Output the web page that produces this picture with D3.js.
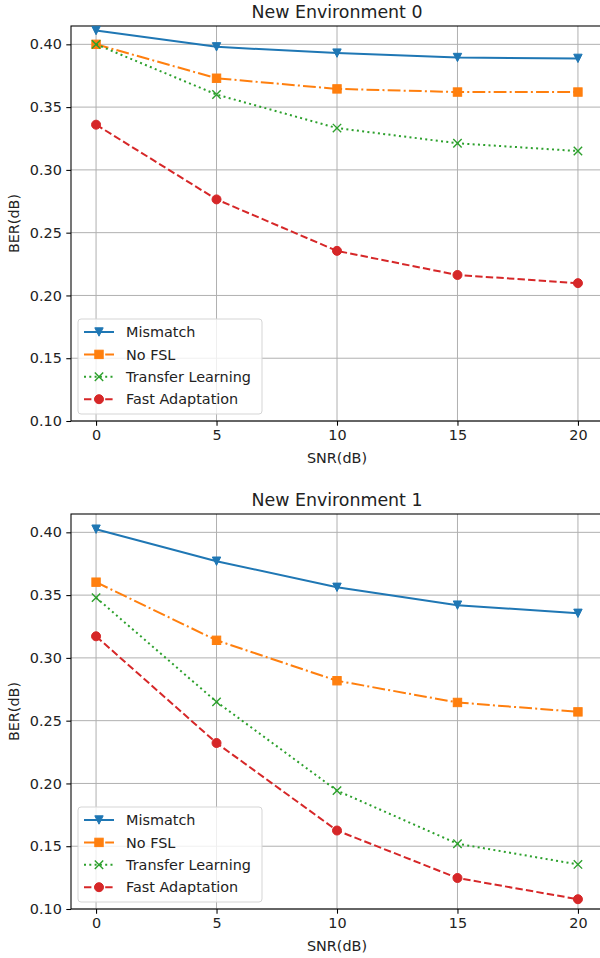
<!DOCTYPE html>
<html>
<head>
<meta charset="utf-8">
<script src="https://cdn.jsdelivr.net/npm/d3@7"></script>
<style>
  body { margin: 0; background: #fff; }
  svg { font-family: "DejaVu Sans", sans-serif; }
</style>
</head>
<body>
<div id="chart"></div>
<script>
// data
const snr = [0, 5, 10, 15, 20];
const seriesNames = ["Mismatch", "No FSL", "Transfer Learning", "Fast Adaptation"];
const env0Mismatch = [0.411, 0.398, 0.393, 0.3895, 0.3888];
const env0NoFSL = [0.400, 0.373, 0.3645, 0.362, 0.362];
const env0Transfer = [0.400, 0.360, 0.3333, 0.3212, 0.315];
const env0Fast = [0.336, 0.2765, 0.2355, 0.2163, 0.2098];
const env1Mismatch = [0.4025, 0.377, 0.3562, 0.342, 0.3355];
const env1NoFSL = [0.3603, 0.314, 0.2818, 0.2645, 0.257];
const env1Transfer = [0.348, 0.265, 0.1943, 0.152, 0.1355];
const env1Fast = [0.3172, 0.2322, 0.1625, 0.1247, 0.1078];
const xTicks = [0, 5, 10, 15, 20];
const yTicks = [0.10, 0.15, 0.20, 0.25, 0.30, 0.35, 0.40];

const colors = ["#1f77b4", "#ff7f0e", "#2ca02c", "#d62728"];
const dashes = [null, "12.8,3.2,2,3.2", "2,3.3", "7.4,3.2"];
const markers = ["tri", "square", "x", "circle"];

const width = 600, height = 958;
const fontSize = "14.4px";
const svg = d3.select("#chart").append("svg")
  .attr("width", width)
  .attr("height", height);

function drawMarker(g, type, cx, cy, color) {
  const s = 4.2;
  if (type === "tri") {
    g.append("path")
      .attr("d", `M${cx - s},${cy - s}L${cx + s},${cy - s}L${cx},${cy + s}Z`)
      .attr("fill", color).attr("stroke", color).attr("stroke-width", 1);
  } else if (type === "square") {
    g.append("rect")
      .attr("x", cx - s).attr("y", cy - s)
      .attr("width", 2 * s).attr("height", 2 * s)
      .attr("fill", color).attr("stroke", color).attr("stroke-width", 1);
  } else if (type === "x") {
    g.append("path")
      .attr("d", `M${cx - s},${cy - s}L${cx + s},${cy + s}M${cx - s},${cy + s}L${cx + s},${cy - s}`)
      .attr("stroke", color).attr("stroke-width", 1.4).attr("fill", "none");
  } else {
    g.append("circle")
      .attr("cx", cx).attr("cy", cy).attr("r", s + 0.3)
      .attr("fill", color).attr("stroke", color).attr("stroke-width", 1);
  }
}

function drawPanel(top, bottom, title, data) {
  const left = 71, right = 603;
  const x = d3.scaleLinear().domain([-1.04, 21.04]).range([left, right]);
  const y = d3.scaleLinear().domain([0.10, 0.4146]).range([bottom, top]);
  const g = svg.append("g");

  // grid
  g.append("g").selectAll("line").data(xTicks).enter().append("line")
    .attr("x1", d => x(d)).attr("x2", d => x(d))
    .attr("y1", top).attr("y2", bottom)
    .attr("stroke", "#b0b0b0").attr("stroke-width", 1);
  g.append("g").selectAll("line").data(yTicks).enter().append("line")
    .attr("x1", left).attr("x2", right)
    .attr("y1", d => y(d)).attr("y2", d => y(d))
    .attr("stroke", "#b0b0b0").attr("stroke-width", 1);

  // axes
  const xAxis = g.append("g")
    .attr("transform", `translate(0,${bottom})`)
    .call(d3.axisBottom(x).tickValues(xTicks).tickSize(4.7).tickPadding(4.5).tickFormat(d3.format("d")));
  const yAxis = g.append("g")
    .attr("transform", `translate(${left},0)`)
    .call(d3.axisLeft(y).tickValues(yTicks).tickSize(4.7).tickPadding(4.5).tickFormat(d3.format(".2f")));
  [xAxis, yAxis].forEach(a => {
    a.select(".domain").remove();
    a.selectAll("line").attr("stroke", "#000").attr("stroke-width", 1.07);
    a.selectAll("text").attr("font-size", fontSize).attr("fill", "#222")
      .attr("font-family", "DejaVu Sans, sans-serif");
  });

  // spines
  g.append("rect")
    .attr("x", left).attr("y", top)
    .attr("width", right - left).attr("height", bottom - top)
    .attr("fill", "none").attr("stroke", "#000").attr("stroke-width", 1.07);

  // lines
  const line = d3.line().x((d, i) => x(snr[i])).y(d => y(d));
  data.forEach((vals, k) => {
    g.append("path")
      .attr("d", line(vals))
      .attr("fill", "none")
      .attr("stroke", colors[k])
      .attr("stroke-width", 2)
      .attr("stroke-dasharray", dashes[k]);
    vals.forEach((v, i) => drawMarker(g, markers[k], x(snr[i]), y(v), colors[k]));
  });

  // title and labels
  g.append("text")
    .attr("x", (left + right) / 2).attr("y", top - 8)
    .attr("text-anchor", "middle")
    .attr("font-size", "17.4px").attr("fill", "#222")
    .text(title);
  g.append("text")
    .attr("x", (left + right) / 2).attr("y", bottom + 42)
    .attr("text-anchor", "middle")
    .attr("font-size", fontSize).attr("fill", "#222")
    .text("SNR(dB)");
  g.append("text")
    .attr("transform", `translate(18.5,${(top + bottom) / 2}) rotate(-90)`)
    .attr("text-anchor", "middle")
    .attr("font-size", fontSize).attr("fill", "#222")
    .text("BER(dB)");

  // legend
  const lx = 78, ly = bottom - 102;
  const leg = g.append("g");
  leg.append("rect")
    .attr("x", lx).attr("y", ly)
    .attr("width", 184).attr("height", 95)
    .attr("rx", 3)
    .attr("fill", "#fff").attr("fill-opacity", 0.8)
    .attr("stroke", "#d5d5d5").attr("stroke-width", 1);
  seriesNames.forEach((name, k) => {
    const yy = ly + 13 + k * 22.4;
    leg.append("line")
      .attr("x1", lx + 6).attr("x2", lx + 36)
      .attr("y1", yy).attr("y2", yy)
      .attr("stroke", colors[k]).attr("stroke-width", 2)
      .attr("stroke-dasharray", dashes[k]);
    drawMarker(leg, markers[k], lx + 21, yy, colors[k]);
    leg.append("text")
      .attr("x", lx + 48).attr("y", yy + 5.2)
      .attr("font-size", fontSize).attr("fill", "#222")
      .text(name);
  });
}

drawPanel(26, 421, "New Environment 0", [env0Mismatch, env0NoFSL, env0Transfer, env0Fast]);
drawPanel(514, 909, "New Environment 1", [env1Mismatch, env1NoFSL, env1Transfer, env1Fast]);
</script>
</body>
</html>
